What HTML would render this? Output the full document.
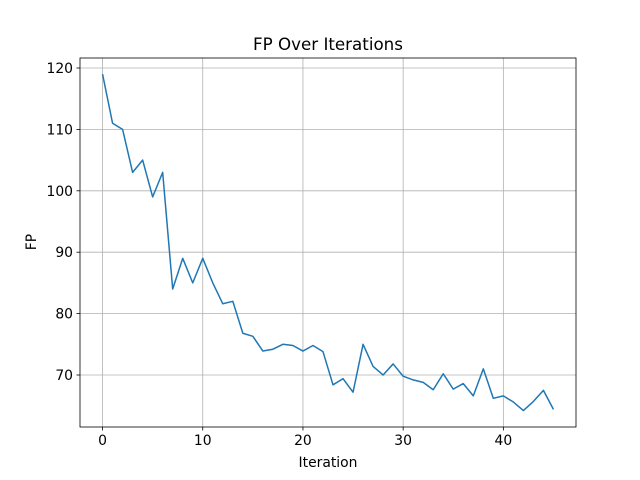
<!DOCTYPE html>
<html><head><meta charset="utf-8"><style>
html,body{margin:0;padding:0;background:#fff;}
svg{display:block;font-family:"DejaVu Sans","Liberation Sans",sans-serif;}
</style></head><body>
<svg id="chart" width="640" height="480" viewBox="0 0 640 480">
<rect x="0" y="0" width="640" height="480" fill="#fff"/>
<text x="328" y="50" text-anchor="middle" font-size="16.7" fill="#000">FP Over Iterations</text>
<g id="grid"></g>
<g id="ticks"></g>
<path id="line" fill="none" stroke="#1f77b4" stroke-width="1.5" stroke-linejoin="round"/>
<rect x="80" y="58" width="496" height="369" fill="none" stroke="#000" stroke-width="0.8"/>
<text x="328" y="467" text-anchor="middle" font-size="13.9">Iteration</text>
<text x="36" y="242" text-anchor="middle" font-size="13.9" transform="rotate(-90 36 242)">FP</text>
</svg>
<script>
const fpValues = [119,111,110,103,105,99,103,84,89,85,89,85,81.6,82,76.8,76.3,73.9,74.2,75,74.8,73.9,74.8,73.8,68.4,69.4,67.2,75,71.4,70,71.8,69.8,69.2,68.8,67.6,70.2,67.7,68.6,66.6,71,66.2,66.6,65.6,64.2,65.7,67.5,64.4];
const xTicks = [0,10,20,30,40];
const yTicks = [70,80,90,100,110,120];
const NS = "http://www.w3.org/2000/svg";
const X0=80,X1=576,Y0=58,Y1=427;
const xMin=-2.25,xMax=47.25,yMin=61.53,yMax=121.63;
function sx(v){return X0+(v-xMin)/(xMax-xMin)*(X1-X0);}
function sy(v){return Y1-(v-yMin)/(yMax-yMin)*(Y1-Y0);}
const grid=document.getElementById('grid'), ticks=document.getElementById('ticks');
function mk(tag,attrs,parent){const e=document.createElementNS(NS,tag);for(const k in attrs)e.setAttribute(k,attrs[k]);parent.appendChild(e);return e;}
xTicks.forEach(t=>{
  const x=sx(t);
  const g=mk('line',{x1:x,x2:x,y1:Y0,y2:Y1,stroke:'#b0b0b0','stroke-width':0.8},grid);
  
  
  const tk=mk('line',{x1:x,x2:x,y1:Y1,y2:Y1+3.5,stroke:'#000','stroke-width':0.8},ticks);
  
  
  const lb=mk('text',{x:x,y:Y1+18,'text-anchor':'middle','font-size':13.9},ticks);
  lb.textContent=t;
  
  
});
yTicks.forEach(t=>{
  const y=sy(t);
  const g=mk('line',{x1:X0,x2:X1,y1:y,y2:y,stroke:'#b0b0b0','stroke-width':0.8},grid);
  
  
  const tk=mk('line',{x1:X0-3.5,x2:X0,y1:y,y2:y,stroke:'#000','stroke-width':0.8},ticks);
  
  
  const lb=mk('text',{x:X0-7,y:y+5,'text-anchor':'end','font-size':13.9},ticks);
  lb.textContent=t;
  
  
});
document.getElementById('line').setAttribute('d',fpValues.map((v,i)=>(i?'L':'M')+sx(i).toFixed(2)+','+sy(v).toFixed(2)).join(' '));
</script>
</body></html>
